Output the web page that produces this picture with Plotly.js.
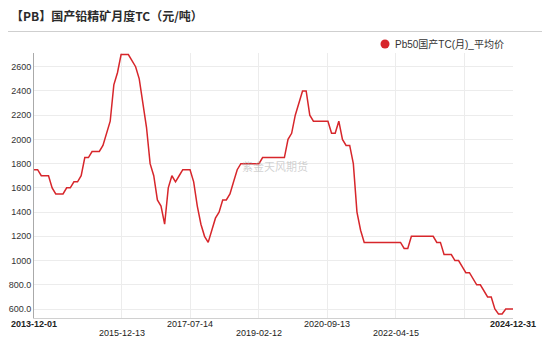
<!DOCTYPE html>
<html><head><meta charset="utf-8">
<script src="https://cdn.plot.ly/plotly-3.0.1.min.js"></script>
<style>html,body{margin:0;padding:0;background:#fff}#chart{width:550px;height:339px}</style>
</head><body><div id="chart"></div>
<script>
const chartTitle = '【PB】国产铅精矿月度TC（元/吨）';
const seriesName = 'Pb50国产TC(月)_平均价';
const watermark = '紫金天风期货';
const startDate = '2013-12-01';
const endDate = '2024-12-31';
const tcValues = [
  1750,1750,1700,1700,1700,1600,1550,1550,1550,1600,
  1600,1650,1650,1700,1850,1850,1900,1900,1900,1950,
  2050,2150,2450,2550,2700,2700,2700,2650,2600,2500,
  2300,2100,1800,1700,1500,1450,1300,1600,1700,1650,
  1700,1750,1750,1750,1650,1450,1300,1200,1150,1250,
  1350,1400,1500,1500,1550,1650,1750,1800,1800,1800,
  1800,1800,1800,1850,1850,1850,1850,1850,1850,1850,
  2000,2050,2200,2300,2400,2400,2200,2150,2150,2150,
  2150,2150,2050,2050,2150,2000,1950,1950,1800,1400,
  1250,1150,1150,1150,1150,1150,1150,1150,1150,1150,
  1150,1150,1100,1100,1200,1200,1200,1200,1200,1200,
  1200,1150,1150,1050,1050,1050,1000,1000,950,900,
  900,850,800,800,750,700,700,600,560,560,
  600,600,600
];
const yTickVals = [600,800,1000,1200,1400,1600,1800,2000,2200,2400,2600];
const yTickText = ['600.0','800.0','1000','1200','1400','1600','1800','2000','2200','2400','2600'];
const xGridDates = ['2015-12-13','2017-07-14','2019-02-12','2020-09-13','2022-04-15','2023-11-15'];
const xLabelDates = ['2013-12-01','2015-12-13','2017-07-14','2019-02-12','2020-09-13','2022-04-15','2024-12-31'];
const xLabelRows = [0,1,0,1,0,1,0];
const xLabelBold = [true,false,false,false,false,false,true];

// sample dates: evenly spread across the period
const t0 = Date.parse(startDate + 'T00:00:00Z');
const t1 = Date.parse(endDate + 'T00:00:00Z');
const xDates = tcValues.map((_, i) => {
  const t = t0 + i * (t1 - t0) / (tcValues.length - 1);
  return new Date(t).toISOString().replace('T', ' ').slice(0, 19);
});

const W = 550, H = 339;
const M = {l: 34, r: 37, t: 53, b: 21};
const pw = W - M.l - M.r, ph = H - M.t - M.b;
const px = v => (v - M.l) / pw;          // pixel x -> paper
const py = v => (H - M.b - v) / ph;      // pixel y -> paper

const red = '#d7262b';
const trace = {
  x: xDates, y: tcValues, type: 'scatter', mode: 'lines',
  name: seriesName, line: {color: red, width: 1.5}, showlegend: false,
  hoverinfo: 'x+y'
};

const annotations = xLabelDates.map((d, i) => ({
  x: d, xref: 'x', y: xLabelRows[i] === 0 ? py(323.5) : py(332.5), yref: 'paper',
  text: xLabelBold[i] ? '<b>' + d + '</b>' : d, showarrow: false,
  xanchor: 'center', yanchor: 'middle',
  font: {family: 'Liberation Sans, Arial, sans-serif', size: 9, color: '#222'}
}));
annotations.push({
  x: px(393), xref: 'paper', y: py(44), yref: 'paper', text: seriesName,
  showarrow: false, xanchor: 'left', yanchor: 'middle',
  font: {family: 'Liberation Sans, Noto Sans CJK SC, sans-serif', size: 10, color: '#333'}
});
annotations.push({
  x: px(275), xref: 'paper', y: py(166), yref: 'paper', text: watermark,
  showarrow: false, xanchor: 'center', yanchor: 'middle',
  font: {family: 'Noto Sans CJK SC, sans-serif', size: 11, color: 'rgba(170,170,170,0.55)'}
});

const layout = {
  width: W, height: H, margin: M,
  paper_bgcolor: '#fff', plot_bgcolor: '#fff',
  title: {
    text: chartTitle, xref: 'container', yref: 'container',
    x: 11 / W, xanchor: 'left', y: 1 - 17 / H, yanchor: 'middle',
    font: {family: 'Noto Sans CJK SC, sans-serif', size: 12, color: '#2b2b2b', weight: 'bold'}
  },
  xaxis: {
    type: 'date', range: [startDate, endDate], tickvals: xGridDates,
    showticklabels: false, showgrid: true, gridcolor: '#ececec', gridwidth: 1,
    showline: true, linecolor: '#d0d0d0', linewidth: 1, zeroline: false, ticks: ''
  },
  yaxis: {
    range: [526, 2713], tickvals: yTickVals, ticktext: yTickText,
    showgrid: true, gridcolor: '#ececec', gridwidth: 1,
    showline: true, linecolor: '#aaa', linewidth: 1, zeroline: false, ticks: '',
    tickfont: {family: 'Liberation Sans, Arial, sans-serif', size: 9, color: '#333'}
  },
  shapes: [
    {type: 'line', xref: 'paper', yref: 'paper', x0: px(8), x1: px(542),
     y0: py(31.5), y1: py(31.5), line: {color: '#cfcfcf', width: 1.2}},
    {type: 'circle', xref: 'paper', yref: 'paper',
     xsizemode: 'pixel', ysizemode: 'pixel', xanchor: px(385), yanchor: py(44),
     x0: -4.5, x1: 4.5, y0: -4.5, y1: 4.5, fillcolor: red, line: {width: 0}}
  ],
  annotations: annotations,
  showlegend: false
};

Plotly.newPlot('chart', [trace], layout, {displayModeBar: false, staticPlot: true});
</script>
</body></html>
